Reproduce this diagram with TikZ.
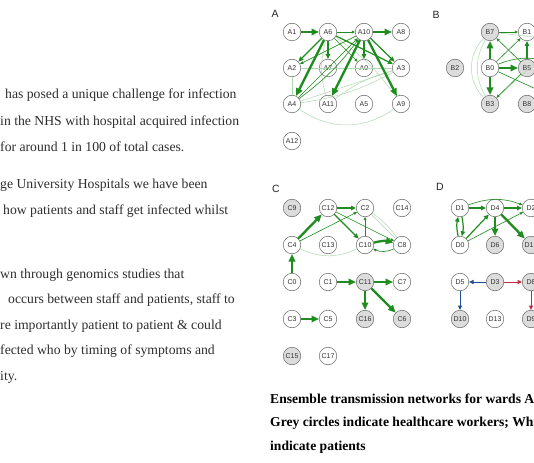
\documentclass[tikz,border=0pt]{standalone}
\usepackage{fontspec}
\setmainfont{Liberation Serif}
\newfontfamily\sansf{Liberation Sans}
\usetikzlibrary{arrows.meta}
\definecolor{eg}{HTML}{1E8C1E}
\definecolor{eblu}{HTML}{1F4F8C}
\definecolor{ered}{HTML}{C8283C}
\definecolor{txt}{HTML}{2E2E2E}
\definecolor{hwfill}{HTML}{DCDCDC}
\begin{document}
\begin{tikzpicture}[x=1pt,y=-1pt,
  nd/.style={circle,draw=black!60,line width=0.5pt,minimum size=17.5pt,inner sep=0pt,fill=white,font=\sansf\fontsize{7}{8}\selectfont,text=black!80},
  hw/.style={nd,fill=hwfill},
  panel/.style={font=\sansf\fontsize{10.5}{11}\selectfont,text=black!85},
  ea/.style={draw=eg,line width=0.6pt,-{Triangle[length=3.2pt,width=2.8pt]}},
  eb/.style={draw=eg,line width=1.2pt,-{Triangle[length=5pt,width=4.4pt]}},
  ec/.style={draw=eg,line width=2.3pt,-{Triangle[length=7.5pt,width=6.5pt]}},
  ef/.style={draw=eg!35,line width=0.5pt},
  eblue/.style={draw=eblu,line width=1pt,-{Triangle[length=4.5pt,width=4pt]}},
  eredd/.style={draw=ered,line width=1pt,-{Triangle[length=4.5pt,width=4pt]}},
  body/.style={anchor=west,inner sep=0pt,font=\fontsize{13.7}{15}\selectfont,text=txt},
  captxt/.style={anchor=west,inner sep=0pt,font=\bfseries\fontsize{13.6}{15}\selectfont,text=black}]
\useasboundingbox (0,0) rectangle (534,462);
\clip (0,0) rectangle (534,462);
\fill[white] (0,0) rectangle (534,462);

% left text
\node[body] (t1) at (5,95) {has posed a unique challenge for infection};
\node[body] (t2) at (0,122) {in the NHS with hospital acquired infection};
\node[body] (t3) at (0,147) {for around 1 in 100 of total cases.};
\node[body] (t4) at (0,185) {ge University Hospitals we have been};
\node[body] (t5) at (3,211) {how patients and staff get infected whilst};
\node[body] (t6) at (0,275) {wn through genomics studies that};
\node[body] (t7) at (8,300) {occurs between staff and patients, staff to};
\node[body] (t8) at (0,326) {re importantly patient to patient \& could};
\node[body] (t9) at (0,351) {fected who by timing of symptoms and};
\node[body] (t10) at (0,377) {ity.};

% caption
\node[captxt] (c1) at (270,399) {Ensemble transmission networks for wards A};
\node[captxt] (c2) at (270,423) {Grey circles indicate healthcare workers; White};
\node[captxt] (c3) at (270,447) {indicate patients};

% Panel A
\node[panel] (LA) at (275,14) {A};
\node[nd] (A1) at (292,32) {A1};
\node[nd] (A6) at (328,32) {A6};
\node[nd] (A10) at (364,32) {A10};
\node[nd] (A8) at (401,32) {A8};
\node[nd] (A2) at (292,68) {A2};
\node[nd] (A7) at (328,68) {A7};
\node[nd] (A0) at (364,68) {A0};
\node[nd] (A3) at (401,68) {A3};
\node[nd] (A4) at (292,104) {A4};
\node[nd] (A11) at (328,104) {A11};
\node[nd] (A5) at (364,104) {A5};
\node[nd] (A9) at (401,104) {A9};
\node[nd] (A12) at (292,141) {A12};
% faint A
\draw[ef] (A4) to[bend right=35] (A9);
\draw[ef] (A2) -- (A4);
\draw[ef] (A2) -- (A3);
\draw[ef] (A4) -- (A3);
\draw[ef] (A11) to[bend left=15] (A6);
\draw[ef] (A6) to[bend left=10] (A9);
\draw[ef] (A7) -- (A3);
\draw[ef] (A4) to[bend right=10] (A3);
\draw[ef] (A11) to[bend left=10] (A3);
\draw[ef] (A2) -- (A10);
\draw[ef] (A7) -- (A10);
% A edges
\draw[ea] (A4) -- (A10);
\draw[ea] (A4) to[bend right=8] (A10);
\draw[ea] (A10) -- (A2);
\draw[ea] (A6) -- (A0);
\draw[ea] (A6) -- (A10);
\draw[eb] (A6) -- (A3);
\draw[eb] (A10) -- (A0);
\draw[eb] (A10) -- (A3);
\draw[eb] (A6) -- (A2);
\draw[eb] (A6) -- (A7);
\draw[ec] (A1) -- (A6);
\draw[ec] (A10) -- (A8);
\draw[ec] (A6) -- (A4);
\draw[ec] (A10) -- (A11);
\draw[ec] (A10) -- (A9);

% Panel B
\node[panel] (LB) at (436,15) {B};
\node[hw] (B7) at (490,32) {B7};
\node[nd] (B1) at (527,32) {B1};
\node[hw] (B2) at (455,68) {B2};
\node[nd] (B0) at (490,68) {B0};
\node[hw] (B5) at (527,68) {B5};
\node[hw] (B3) at (490,104) {B3};
\node[hw] (B8) at (527,104) {B8};
\coordinate (Bx) at (560,68);
\coordinate (By) at (560,100);
\coordinate (Bz) at (560,40);
\draw[ef] (B3) to[bend left=45] (B7);
\draw[ef] (B3) to[bend left=30] (B7);
\draw[ef] (B7) -- (Bz);
\draw[ef] (B3) -- (Bz);
\draw[ea] (B7) -- (B1);
\draw[ea] (B0) -- (B1);
\draw[ea] (B5) -- (B7);
\draw[ea] (B5) -- (B3);
\draw[ea] (B0) -- (By);
\draw[ea] (B0) to[bend left=25] (Bx);
\draw[eb] (B5) -- (B1);
\draw[ec] (B0) -- (B7);
\draw[ec] (B0) -- (B3);
\draw[ec] (B0) -- (B5);

% Panel C
\node[panel] (LC) at (276,189) {C};
\node[hw] (C9) at (292,208) {C9};
\node[nd] (C12) at (328,208) {C12};
\node[nd] (C2) at (365,208) {C2};
\node[nd] (C14) at (402,208) {C14};
\node[nd] (C4) at (292,245) {C4};
\node[nd] (C13) at (328,245) {C13};
\node[nd] (C10) at (365,245) {C10};
\node[nd] (C8) at (402,245) {C8};
\node[nd] (C0) at (292,282) {C0};
\node[nd] (C1) at (328,282) {C1};
\node[hw] (C11) at (365,282) {C11};
\node[nd] (C7) at (402,282) {C7};
\node[nd] (C3) at (292,319) {C3};
\node[nd] (C5) at (328,319) {C5};
\node[hw] (C16) at (365,319) {C16};
\node[hw] (C6) at (402,319) {C6};
\node[hw] (C15) at (292,356) {C15};
\node[nd] (C17) at (328,356) {C17};
\draw[ef] (C4) to[bend right=25] (C10);
\draw[ef] (C8) -- (C2);
\draw[ef] (C2) to[bend left=10] (C8);
\draw[ea] (C10) -- (C2);
\draw[ea] (C4) -- (C2);
\draw[ea] (C12) -- (C8);
\draw[ea] (C8) to[bend left=25] (C10);
\draw[eb] (C12) -- (C2);
\draw[eb] (C12) -- (C10);
\draw[ec] (C10) to[bend left=15] (C8);
\draw[ec] (C0) -- (C4);
\draw[ec] (C4) -- (C12);
\draw[ec] (C1) -- (C11);
\draw[ec] (C11) -- (C7);
\draw[ec] (C11) -- (C16);
\draw[ec] (C11) -- (C6);
\draw[ec] (C3) -- (C5);

% Panel D
\node[panel] (LD) at (440,187) {D};
\node[nd] (D1) at (460,208) {D1};
\node[nd] (D4) at (495,208) {D4};
\node[nd] (D2) at (531,208) {D2};
\node[nd] (D0) at (460,245) {D0};
\node[hw] (D6) at (495,245) {D6};
\node[hw] (D12) at (531,245) {D12};
\node[nd] (D5) at (460,282) {D5};
\node[hw] (D3) at (495,282) {D3};
\node[hw] (D8) at (531,282) {D8};
\node[hw] (D10) at (460,319) {D10};
\node[nd] (D13) at (495,319) {D13};
\node[hw] (D9) at (531,319) {D9};
\draw[ea] (D1) to[bend left=20] (D2);
\draw[ea] (D0) -- (D2);
\draw[eb] (D1) -- (D4);
\draw[eb] (D4) -- (D2);
\draw[eb] (D1) to[bend left=12] (D0);
\draw[eb] (D0) to[bend left=12] (D1);
\draw[eb] (D0) -- (D4);
\draw[ec] (D4) -- (D6);
\draw[ec] (D4) -- (D12);
\draw[eblue] (D3) -- (D5);
\draw[eblue] (D5) -- (D10);
\draw[eredd] (D3) -- (D8);
\draw[eredd] (D8) -- (D9);
\end{tikzpicture}
\end{document}
